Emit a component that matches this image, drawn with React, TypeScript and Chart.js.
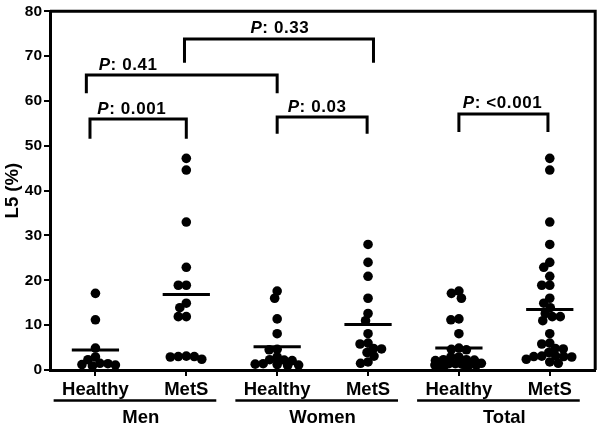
import React, { useEffect, useRef } from 'react';
import { Chart, registerables } from 'chart.js';

Chart.register(...registerables);

const categories = ['Healthy', 'MetS', 'Healthy', 'MetS', 'Healthy', 'MetS'];
const groupNames = ['Men', 'Women', 'Total'];
const yTicks = [0, 10, 20, 30, 40, 50, 60, 70, 80];
const yTitle = 'L5 (%)';

const menHealthy = [17.1, 11.2, 4.9, 2.9, 2.3, 1.4, 1.1, 0.9, 1.2, 1.5];
const menMetS = [47.2, 44.6, 33.0, 22.9, 18.9, 18.9, 14.9, 13.9, 11.9, 11.9, 3.0, 3.1, 2.9, 3.0, 2.4];
const womenHealthy = [17.6, 16.0, 11.4, 8.1, 4.5, 4.6, 2.9, 2.2, 2.1, 2.3, 1.3, 1.2, 1.4, 1.1, 1.0];
const womenMetS = [28.0, 24.0, 20.9, 16.0, 12.6, 11.0, 8.1, 6.0, 5.8, 4.8, 4.7, 3.9, 3.1, 1.8, 1.5];
const totalHealthy = [...menHealthy, ...womenHealthy];
const totalMetS = [...menMetS, ...womenMetS];
const seriesValues = [menHealthy, menMetS, womenHealthy, womenMetS, totalHealthy, totalMetS];

// significance brackets (category-axis units for x, % for y)
const bracketFrom = [-0.06, -0.1, 0.98, 2.0, 4.0];
const bracketTo = [1.0, 2.0, 3.06, 2.99, 4.98];
const bracketTop = [56.0, 65.8, 73.8, 56.4, 57.1];
const bracketBottom = [51.6, 61.7, 68.5, 52.7, 53.1];
const pLabels = ['0.001', '0.41', '0.33', '0.03', '<0.001'];
const pLabelX = [0.4, 0.36, 2.03, 2.44, 4.48];
const pLabelY = [57.2, 67.0, 75.1, 57.6, 58.4];

const FONT = '"Liberation Sans", Arial, sans-serif';
const PX_PER_Y = 4.55;
const PX_PER_X = 91;
const SEP = 7.6;
const MAX_OFF = 24;

function mean(a: number[]) {
  return a.reduce((s, v) => s + v, 0) / a.length;
}

function swarm(values: number[], center: number) {
  const placed: { x: number; y: number }[] = [];
  const order = values.map((_, i) => i).sort((a, b) => values[b] - values[a]);
  const out: { x: number; y: number }[] = new Array(values.length);
  for (const i of order) {
    const py = values[i] * PX_PER_Y;
    let best: number | null = null;
    let fallback = 0;
    let fallbackScore = -1;
    for (let k = 0; k * 0.5 <= MAX_OFF; k++) {
      const cands = k === 0 ? [0] : [-k * 0.5, k * 0.5];
      for (const c of cands) {
        let minD = Infinity;
        for (const p of placed) {
          const d = Math.hypot(p.x - c, p.y - py);
          if (d < minD) minD = d;
        }
        if (minD >= SEP) {
          best = c;
          break;
        }
        if (minD > fallbackScore) {
          fallbackScore = minD;
          fallback = c;
        }
      }
      if (best !== null) break;
    }
    const off = best !== null ? best : fallback;
    placed.push({ x: off, y: py });
    out[i] = { x: center + off / PX_PER_X, y: values[i] };
  }
  return out;
}

const annotPlugin = {
  id: 'annot',
  afterDraw(chart: any) {
    const { ctx, chartArea } = chart;
    const xs = chart.scales.x;
    const ys = chart.scales.y;
    ctx.save();
    ctx.strokeStyle = '#000';
    ctx.fillStyle = '#000';
    ctx.lineWidth = 3;
    ctx.beginPath();
    ctx.moveTo(chartArea.left, chartArea.top);
    ctx.lineTo(chartArea.right, chartArea.top);
    ctx.lineTo(chartArea.right, chartArea.bottom);
    ctx.stroke();

    ctx.textBaseline = 'alphabetic';
    (ctx as any).letterSpacing = '0.6px';
    pLabels.forEach((lab, i) => {
      const cx = xs.getPixelForValue(pLabelX[i]);
      const by = ys.getPixelForValue(pLabelY[i]);
      ctx.font = `italic bold 17px ${FONT}`;
      const wP = ctx.measureText('P').width;
      ctx.font = `bold 17px ${FONT}`;
      const rest = ': ' + lab;
      const wR = ctx.measureText(rest).width;
      const start = cx - (wP + wR) / 2;
      ctx.font = `italic bold 17px ${FONT}`;
      ctx.textAlign = 'left';
      ctx.fillText('P', start, by);
      ctx.font = `bold 17px ${FONT}`;
      ctx.fillText(rest, start + wP, by);
    });
    (ctx as any).letterSpacing = '0px';

    ctx.font = `bold 18.5px ${FONT}`;
    ctx.textAlign = 'center';
    categories.forEach((c, i) => {
      ctx.fillText(c, xs.getPixelForValue(i), 394.5);
    });

    ctx.lineWidth = 2.5;
    groupNames.forEach((g, gi) => {
      const a = gi * 2;
      const b = gi * 2 + 1;
      const x1 = xs.getPixelForValue(a - 0.46);
      const x2 = xs.getPixelForValue(b + 0.33);
      ctx.beginPath();
      ctx.moveTo(x1, 400.5);
      ctx.lineTo(x2, 400.5);
      ctx.stroke();
      const cx = (xs.getPixelForValue(a) + xs.getPixelForValue(b)) / 2;
      ctx.fillText(g, cx, 423);
    });

    ctx.save();
    ctx.translate(17.5, (chartArea.top + chartArea.bottom) / 2);
    ctx.rotate(-Math.PI / 2);
    ctx.font = `bold 18.5px ${FONT}`;
    ctx.textAlign = 'center';
    ctx.textBaseline = 'alphabetic';
    ctx.fillText(yTitle, 0, 0);
    ctx.restore();

    ctx.restore();
  },
};

export default function App() {
  const ref = useRef<HTMLCanvasElement | null>(null);
  useEffect(() => {
    if (!ref.current) return;
    const datasets: any[] = [];
    seriesValues.forEach((vals, i) => {
      datasets.push({
        type: 'scatter',
        data: swarm(vals, i),
        pointRadius: 4.8,
        pointHoverRadius: 4.8,
        backgroundColor: '#000',
        borderWidth: 0,
        clip: false,
        order: 2,
      });
    });
    seriesValues.forEach((vals, i) => {
      const m = mean(vals);
      datasets.push({
        type: 'line',
        data: [
          { x: i - 0.26, y: m },
          { x: i + 0.26, y: m },
        ],
        borderColor: '#000',
        borderWidth: 3,
        pointRadius: 0,
        borderCapStyle: 'butt',
        clip: false,
        order: 1,
      });
    });
    pLabels.forEach((_, i) => {
      datasets.push({
        type: 'line',
        data: [
          { x: bracketFrom[i], y: bracketBottom[i] },
          { x: bracketFrom[i], y: bracketTop[i] },
          { x: bracketTo[i], y: bracketTop[i] },
          { x: bracketTo[i], y: bracketBottom[i] },
        ],
        borderColor: '#000',
        borderWidth: 3,
        pointRadius: 0,
        borderCapStyle: 'butt',
        borderJoinStyle: 'miter',
        tension: 0,
        clip: false,
        order: 1,
      });
    });

    const chart = new Chart(ref.current, {
      type: 'scatter',
      data: { datasets },
      options: {
        animation: false,
        responsive: true,
        maintainAspectRatio: false,
        events: [],
        layout: { padding: { top: 6, right: 4, left: 0, bottom: 0 } },
        plugins: { legend: { display: false }, tooltip: { enabled: false } },
        scales: {
          x: {
            type: 'linear',
            min: -0.5,
            max: 5.5,
            afterBuildTicks: (scale: any) => {
              scale.ticks = categories.map((_, i) => ({ value: i }));
            },
            afterFit: (scale: any) => {
              scale.height = 56;
            },
            ticks: { display: false },
            grid: {
              display: true,
              drawOnChartArea: false,
              drawTicks: true,
              tickLength: 6,
              lineWidth: 2,
              color: '#000',
            },
            border: { display: true, width: 3, color: '#000' },
          },
          y: {
            type: 'linear',
            min: 0,
            max: 80,
            afterBuildTicks: (scale: any) => {
              scale.ticks = yTicks.map((v) => ({ value: v }));
            },
            afterFit: (scale: any) => {
              scale.width = 50;
            },
            ticks: {
              color: '#000',
              font: { family: FONT, size: 15.5, weight: 'bold' },
              padding: 2,
            },
            grid: {
              display: true,
              drawOnChartArea: false,
              drawTicks: true,
              tickLength: 6,
              lineWidth: 2,
              color: '#000',
            },
            border: { display: true, width: 3, color: '#000' },
          },
        },
      },
      plugins: [annotPlugin],
    });
    return () => chart.destroy();
  }, []);
  return (
    <div style={{ position: 'fixed', left: 0, top: 0, width: 600, height: 426, background: '#fff' }}>
      <canvas ref={ref} />
    </div>
  );
}
